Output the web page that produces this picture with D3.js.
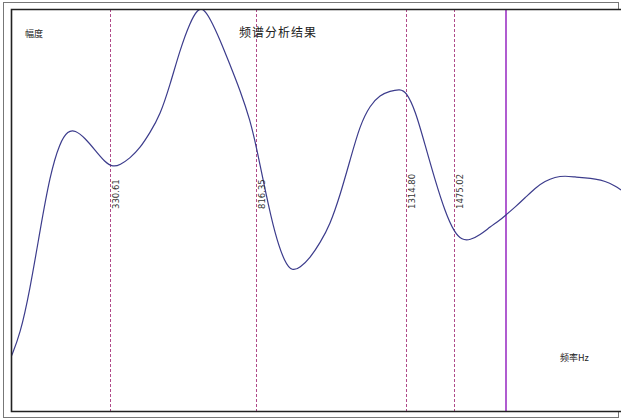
<!DOCTYPE html>
<html><head><meta charset="utf-8">
<script src="https://cdn.jsdelivr.net/npm/d3@7"></script>
<style>html,body{margin:0;padding:0;background:#fff;}svg{display:block;}</style>
</head><body>
<svg id="chart" width="621" height="420"></svg>
<script>
const freqs = [0,30,63,97,130,163,190,213,247,280,313,340,363,397,430,463,497,530,563,597,623,640,663,697,730,763,797,820,847,880,913,937,963,997,1030,1063,1097,1130,1163,1197,1230,1263,1297,1317,1347,1380,1413,1447,1477,1503,1530,1563,1597,1630,1650,1680,1713,1747,1780,1813,1847,1880,1913,1947,1980,2013,2033];
const amps = [13.4,18.9,30.1,45.0,58.7,66.9,69.7,69.9,67.9,64.9,61.9,60.7,61.2,62.9,65.4,69.2,73.6,81.1,89.8,96.8,100,100.2,97.8,92.3,86.1,79.9,72.4,64.9,55.0,43.8,36.8,34.8,35.6,38.1,41.8,46.3,53.7,62.4,71.1,76.1,78.6,79.6,80.1,79.4,74.9,66.2,57.5,49.5,44.5,42.5,42.5,43.8,45.8,47.5,48.8,50.7,53.0,55.5,57.2,58.2,58.5,58.2,58.0,57.7,57.2,56.0,55.0];
const markerFreqs = [330.61, 816.35, 1314.80, 1475.02];
const markerLabels = ["330.61", "816.35", "1314.80", "1475.02"];
const cursorFreq = [1650];
const title = "频谱分析结果";
const yLabel = "幅度";
const xLabel = "频率Hz";

const svg = d3.select("#chart");
const L = 11, T = 9, R = 621, B = 411;
const x = d3.scaleLinear().domain([0, 2033]).range([L, R]);
const y = d3.scaleLinear().domain([0, 100]).range([B, T]);

// outer frame
svg.append("rect").attr("x", 3.5).attr("y", 2.5).attr("width", 615).attr("height", 415)
  .attr("fill", "#fff").attr("stroke", "#777").attr("stroke-width", 1);
svg.append("rect").attr("x", L).attr("y", T).attr("width", 620 - L).attr("height", B - T)
  .attr("fill", "#fff");

svg.append("defs").append("clipPath").attr("id", "clip")
  .append("rect").attr("x", L).attr("y", T).attr("width", R - L).attr("height", B - T);

const g = svg.append("g").attr("clip-path", "url(#clip)");

// dashed markers
g.selectAll("line.mk").data(markerFreqs).enter().append("line").attr("class", "mk")
  .attr("x1", d => Math.round(x(d)) + 0.5).attr("x2", d => Math.round(x(d)) + 0.5)
  .attr("y1", T).attr("y2", B)
  .attr("stroke", "#b04a8a").attr("stroke-width", 1).attr("stroke-dasharray", "3,2");

// cursor
g.selectAll("line.cur").data(cursorFreq).enter().append("line").attr("class", "cur")
  .attr("x1", d => Math.round(x(d))).attr("x2", d => Math.round(x(d)))
  .attr("y1", T).attr("y2", B)
  .attr("stroke", "#b05cd0").attr("stroke-width", 2);

// curve
const pts = freqs.map((f, i) => [f, amps[i]]);
g.append("path").datum(pts)
  .attr("d", d3.line().x(d => x(d[0])).y(d => y(d[1])).curve(d3.curveBasis))
  .attr("fill", "none").attr("stroke", "#3c3c8c").attr("stroke-width", 1.2);

// marker labels
svg.selectAll("text.ml").data(markerFreqs).enter().append("text").attr("class", "ml")
  .attr("transform", d => `translate(${Math.round(x(d)) + 9},209) rotate(-90)`)
  .attr("font-family", "DejaVu Sans, sans-serif").attr("font-size", 8.5)
  .attr("fill", "#333")
  .text((d, i) => markerLabels[i]);

// texts
svg.append("text").attr("x", 278).attr("y", 37).attr("text-anchor", "middle")
  .attr("font-family", "Noto Sans CJK SC, sans-serif").attr("font-size", 12).attr("fill", "#222")
  .attr("letter-spacing", 1).text(title);
svg.append("text").attr("x", 25).attr("y", 37)
  .attr("font-family", "Noto Sans CJK SC, sans-serif").attr("font-size", 9).attr("fill", "#222")
  .text(yLabel);
svg.append("text").attr("x", 560).attr("y", 361)
  .attr("font-family", "Noto Sans CJK SC, sans-serif").attr("font-size", 9).attr("fill", "#222")
  .text(xLabel);

// inner border (left, top, bottom)
svg.append("path").attr("d", `M${R},${T + 0.5}H${L + 0.5}V${B + 0.5}H${R}`)
  .attr("fill", "none").attr("stroke", "#222").attr("stroke-width", 1.6);
</script>
</body></html>
